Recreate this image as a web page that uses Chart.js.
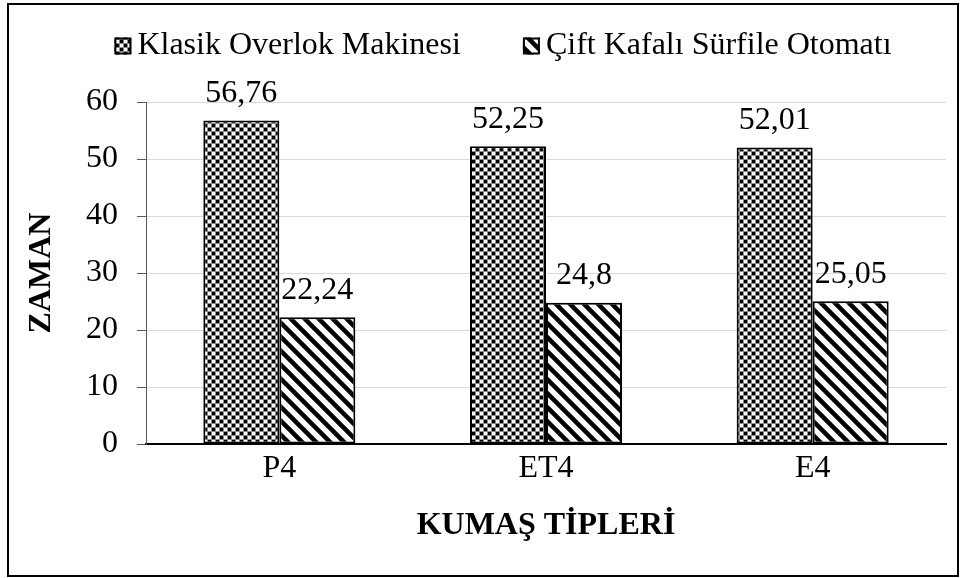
<!DOCTYPE html>
<html>
<head>
<meta charset="utf-8">
<script src="https://cdn.jsdelivr.net/npm/chart.js@4"></script>
<style>
  html, body { margin: 0; padding: 0; background: #fff; }
</style>
</head>
<body>
<canvas id="grafik" width="968" height="578"></canvas>
<script>
// veriler
const kumasTipleri = ['P4', 'ET4', 'E4'];
const seriAdlari = ['Klasik Overlok Makinesi', 'Çift Kafalı Sürfile Otomatı'];
const klasikOverlok = [56.76, 52.25, 52.01];
const ciftKafali = [22.24, 24.8, 25.05];
const zamanMin = 0;
const zamanMax = 60;
const zamanAdim = 10;

const yazi = "'Liberation Serif', 'Times New Roman', serif";
const yaziBoyu = 32;

// dama deseni (klasik overlok)
function damaliDesen() {
    const c = document.createElement('canvas');
    c.width = 8; c.height = 8;
    const g = c.getContext('2d');
    for (let y = 0; y < 8; y++) {
        for (let x = 0; x < 8; x++) {
            let renk;
            if (x % 4 === 3 || y % 4 === 3) renk = '#8c8c8c';
            else renk = ((Math.floor(x / 4) + Math.floor(y / 4)) % 2 === 0) ? '#000' : '#fff';
            g.fillStyle = renk;
            g.fillRect(x, y, 1, 1);
        }
    }
    return g.createPattern(c, 'repeat');
}

// çapraz çizgili desen (sürfile otomatı)
function cizgiliDesen() {
    const c = document.createElement('canvas');
    c.width = 14; c.height = 14;
    const g = c.getContext('2d');
    g.fillStyle = '#fff';
    g.fillRect(0, 0, 14, 14);
    g.strokeStyle = '#000';
    g.lineWidth = 4.5;
    for (let k = -1; k <= 1; k++) {
        g.beginPath();
        g.moveTo(k * 14 - 2, -2);
        g.lineTo(k * 14 + 16, 16);
        g.stroke();
    }
    return g.createPattern(c, 'repeat');
}

const cerceve = {
    id: 'cerceve',
    afterDraw(chart) {
        const ctx = chart.ctx;
        ctx.save();
        ctx.strokeStyle = '#000';
        ctx.lineWidth = 2;
        ctx.strokeRect(8, 4, 950, 572);
        ctx.restore();
    }
};

// lejant elle çiziliyor (kutu ile yazı arası dar)
const lejant = {
    id: 'lejant',
    afterDraw(chart) {
        const ctx = chart.ctx;
        const kutu = 17, bosluk = 6, ara = 62, y = 46;
        ctx.save();
        ctx.font = yaziBoyu + 'px ' + yazi;
        ctx.textBaseline = 'middle';
        const setler = chart.data.datasets;
        let toplam = 0;
        setler.forEach((ds, i) => {
            toplam += kutu + bosluk + ctx.measureText(ds.label).width;
            if (i < setler.length - 1) toplam += ara;
        });
        let x = 503 - toplam / 2;
        setler.forEach(ds => {
            ctx.fillStyle = ds.backgroundColor;
            ctx.fillRect(x, y - kutu / 2, kutu, kutu);
            ctx.strokeStyle = '#000';
            ctx.lineWidth = 2;
            ctx.strokeRect(x + 1, y - kutu / 2 + 1, kutu - 2, kutu - 2);
            x += kutu + bosluk;
            ctx.fillStyle = '#000';
            ctx.fillText(ds.label, x, y);
            x += ctx.measureText(ds.label).width + ara;
        });
        ctx.restore();
    }
};

// çubuk üstü değerler
const degerEtiketi = {
    id: 'degerEtiketi',
    afterDatasetsDraw(chart) {
        const ctx = chart.ctx;
        ctx.save();
        ctx.font = yaziBoyu + 'px ' + yazi;
        ctx.fillStyle = '#000';
        ctx.textAlign = 'center';
        ctx.textBaseline = 'middle';
        chart.data.datasets.forEach((ds, i) => {
            chart.getDatasetMeta(i).data.forEach((bar, j) => {
                const metin = String(ds.data[j]).replace('.', ',');
                ctx.fillText(metin, bar.x, bar.y - 27);
            });
        });
        ctx.restore();
    }
};

const ctx = document.getElementById('grafik').getContext('2d');

new Chart(ctx, {
    type: 'bar',
    data: {
        labels: kumasTipleri,
        datasets: [{
            label: seriAdlari[0],
            data: klasikOverlok,
            backgroundColor: damaliDesen(),
            borderColor: '#000',
            borderWidth: 2,
            borderSkipped: false
        }, {
            label: seriAdlari[1],
            data: ciftKafali,
            backgroundColor: cizgiliDesen(),
            borderColor: '#000',
            borderWidth: 2,
            borderSkipped: false
        }]
    },
    options: {
        responsive: false,
        animation: false,
        layout: { padding: { top: 102, right: 22, left: 0, bottom: 0 } },
        datasets: { bar: { categoryPercentage: 0.57, barPercentage: 1 } },
        plugins: {
            legend: { display: false },
            tooltip: { enabled: false }
        },
        scales: {
            x: {
                grid: { display: true, drawOnChartArea: false, drawTicks: false },
                border: { color: '#000', width: 2 },
                ticks: { color: '#000', padding: 5, font: { family: yazi, size: yaziBoyu } },
                title: {
                    display: true,
                    text: 'KUMAŞ TİPLERİ',
                    color: '#000',
                    font: { family: yazi, size: yaziBoyu, weight: 'bold' },
                    padding: { top: 0, bottom: 33 }
                },
                afterFit(s) { s.height = 134; }
            },
            y: {
                min: zamanMin,
                max: zamanMax,
                ticks: { stepSize: zamanAdim, color: '#000', padding: 19, font: { family: yazi, size: yaziBoyu } },
                grid: { color: '#d9d9d9', tickColor: '#595959', tickLength: 9 },
                border: { color: '#595959', width: 1 },
                title: {
                    display: true,
                    text: 'ZAMAN',
                    color: '#000',
                    font: { family: yazi, size: yaziBoyu, weight: 'bold' },
                    padding: { top: 23, bottom: 0 }
                },
                afterFit(s) { s.width = 146; }
            }
        }
    },
    plugins: [cerceve, lejant, degerEtiketi]
});
</script>
</body>
</html>
